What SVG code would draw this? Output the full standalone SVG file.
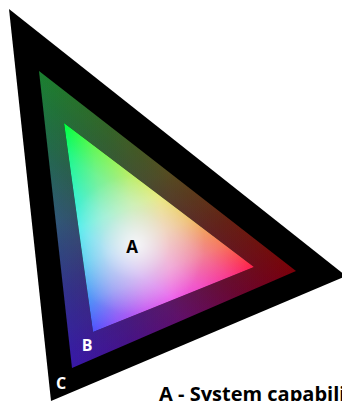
<svg xmlns="http://www.w3.org/2000/svg" width="342" height="401" viewBox="0 0 342 401">
<style>
.scr{mix-blend-mode:screen}
.iso{isolation:isolate}
.lbl{font-family:"Open Sans","Lato","Liberation Sans",sans-serif;font-weight:700}
</style>
<defs>
<!-- inner triangle gradients -->
<linearGradient id="iT" gradientUnits="userSpaceOnUse" x1="64" y1="123" x2="140.6" y2="312.8">
<stop offset="0" stop-color="#00ff40" stop-opacity="1"/><stop offset="0.5" stop-color="#00ff40" stop-opacity="0.9"/><stop offset="0.67" stop-color="#00ff40" stop-opacity="0.7"/><stop offset="0.85" stop-color="#00ff40" stop-opacity="0.38"/><stop offset="1" stop-color="#00ff40" stop-opacity="0"/>
</linearGradient>
<linearGradient id="iR" gradientUnits="userSpaceOnUse" x1="254" y1="267" x2="87.2" y2="290.1">
<stop offset="0" stop-color="#ff1e48" stop-opacity="1"/><stop offset="0.5" stop-color="#ff1e48" stop-opacity="0.9"/><stop offset="0.67" stop-color="#ff1e48" stop-opacity="0.7"/><stop offset="0.85" stop-color="#ff1e48" stop-opacity="0.38"/><stop offset="1" stop-color="#ff1e48" stop-opacity="0"/>
</linearGradient>
<linearGradient id="iL" gradientUnits="userSpaceOnUse" x1="93" y1="332" x2="183" y2="213.2">
<stop offset="0" stop-color="#5050ff" stop-opacity="1"/><stop offset="0.5" stop-color="#5050ff" stop-opacity="0.9"/><stop offset="0.67" stop-color="#5050ff" stop-opacity="0.7"/><stop offset="0.85" stop-color="#5050ff" stop-opacity="0.38"/><stop offset="1" stop-color="#5050ff" stop-opacity="0"/>
</linearGradient>
<radialGradient id="iW" gradientUnits="userSpaceOnUse" cx="135" cy="245" r="70">
<stop offset="0" stop-color="#ffffff" stop-opacity="0.85"/><stop offset="0.5" stop-color="#ffffff" stop-opacity="0.3"/><stop offset="1" stop-color="#ffffff" stop-opacity="0"/>
</radialGradient>
<!-- middle band gradients -->
<linearGradient id="mT" gradientUnits="userSpaceOnUse" x1="39" y1="71" x2="152.5" y2="333.1">
<stop offset="0" stop-color="#1a8030" stop-opacity="1"/><stop offset="0.5" stop-color="#1a8030" stop-opacity="0.6"/><stop offset="0.75" stop-color="#1a8030" stop-opacity="0.25"/><stop offset="1" stop-color="#1a8030" stop-opacity="0"/>
</linearGradient>
<linearGradient id="mR" gradientUnits="userSpaceOnUse" x1="296" y1="271" x2="64.1" y2="296.8">
<stop offset="0" stop-color="#7a0008" stop-opacity="1"/><stop offset="0.5" stop-color="#7a0008" stop-opacity="0.6"/><stop offset="0.75" stop-color="#7a0008" stop-opacity="0.25"/><stop offset="1" stop-color="#7a0008" stop-opacity="0"/>
</linearGradient>
<linearGradient id="mL" gradientUnits="userSpaceOnUse" x1="72" y1="368" x2="203.5" y2="199">
<stop offset="0" stop-color="#3818a8" stop-opacity="1"/><stop offset="0.5" stop-color="#3818a8" stop-opacity="0.6"/><stop offset="0.75" stop-color="#3818a8" stop-opacity="0.25"/><stop offset="1" stop-color="#3818a8" stop-opacity="0"/>
</linearGradient>
</defs>
<rect width="342" height="401" fill="#ffffff"/>
<g id="outer-triangle">
<polygon points="9,9 346,276 51,401" fill="#000000"/>
</g>
<g id="gamut-middle" class="iso">
<polygon points="39,71 296,271 72,368" fill="#000000"/>
<polygon class="scr" points="39,71 296,271 72,368" fill="url(#mT)"/>
<polygon class="scr" points="39,71 296,271 72,368" fill="url(#mR)"/>
<polygon class="scr" points="39,71 296,271 72,368" fill="url(#mL)"/>
</g>
<g id="gamut-inner" class="iso">
<polygon points="64,123 254,267 93,332" fill="#000000"/>
<polygon class="scr" points="64,123 254,267 93,332" fill="url(#iT)"/>
<polygon class="scr" points="64,123 254,267 93,332" fill="url(#iR)"/>
<polygon class="scr" points="64,123 254,267 93,332" fill="url(#iL)"/>
<polygon class="scr" points="64,123 254,267 93,332" fill="url(#iW)"/>
</g>
<g id="labels" class="lbl">
<text x="132" y="253" font-size="17" fill="#000000" text-anchor="middle">A</text>
<text x="87" y="351" font-size="16" fill="#ffffff" text-anchor="middle">B</text>
<text x="61" y="389" font-size="16" fill="#ffffff" text-anchor="middle">C</text>
<text x="159" y="401" font-size="20" fill="#000000">A - System capabili</text>
</g>
</svg>
